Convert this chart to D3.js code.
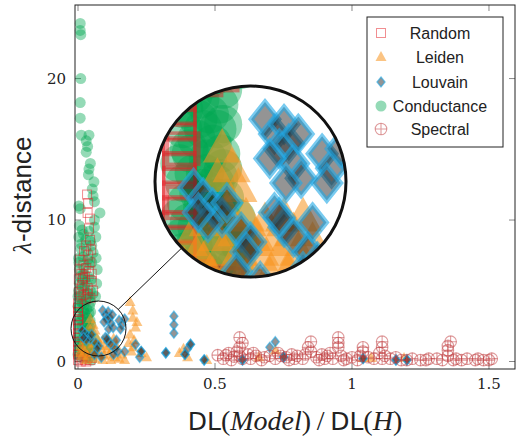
<!DOCTYPE html>
<html><head><meta charset="utf-8">
<script src="https://cdn.jsdelivr.net/npm/d3@7"></script>
<style>body{margin:0;background:#fff}</style>
</head><body>
<script>
// ---- data ----
const xTicks = [0, 0.5, 1, 1.5];
const xTickLabels = ["0", "0.5", "1", "1.5"];
const yTicks = [0, 10, 20];
const yTickLabels = ["0", "10", "20"];
const seriesNames = ["Random", "Leiden", "Louvain", "Conductance", "Spectral"];

const conductancePts = [
 [0.008,23.9],[0.008,23.4],[0.010,23.1],[0.010,20.0],[0.008,18.3],[0.008,17.2],[0.012,16.0],[0.040,16.0],
 [0.030,15.6],[0.035,15.2],[0.030,14.8],[0.045,14.0],[0.040,13.6],[0.038,13.2],[0.058,12.7],[0.052,12.2],
 [0.055,11.7],[0.060,11.3],[0.003,11.0],[0.008,10.8],[0.080,10.5],[0.005,9.6],[0.015,9.3],[0.060,9.5],
 [0.003,8.8],[0.045,8.5],[0.010,8.0],[0.030,7.8],[0.002,7.3],[0.050,7.0],
 [0.005,6.5],[0.020,6.2],[0.040,6.0],[0.005,5.5],[0.025,5.3],[0.045,5.0],[0.010,4.6],[0.030,4.4],
 [0.046,4.2],[0.005,3.8],[0.020,3.6],[0.040,3.4],[0.010,3.0],[0.030,2.8],[0.046,2.6],
 [0.005,2.3],[0.020,2.1],[0.040,2.0],[0.060,1.6],[0.010,1.5],[0.030,1.3],[0.050,1.2],[0.005,0.9],
 [0.020,0.7],[0.040,0.6],[0.010,0.3],[0.030,0.2],[0.050,0.1],[0.015,5.8],[0.035,4.8],[0.015,4.1],
 [0.035,3.1],[0.015,2.5],[0.035,1.7],[0.015,1.0],[0.045,0.9],[0.025,0.4],[0.065,1.0],
 [0.000,0.5],[0.012,0.8],[0.028,0.5],[0.042,0.3],[0.058,0.6],[0.003,1.2],[0.018,1.4],[0.033,1.0],
 [0.048,1.5],[0.062,1.1],[0.007,1.9],[0.024,1.8],[0.038,2.3],[0.048,2.0],[0.000,2.7],[0.012,2.9],
 [0.027,2.5],[0.044,2.9],[0.004,3.4],[0.018,3.2],[0.032,3.7],[0.046,3.5],[0.008,4.3],[0.022,4.0],
 [0.040,4.5],[0.055,4.8],[0.002,5.0],[0.017,5.2],[0.030,5.6],[0.048,5.8],[0.008,6.0],[0.024,6.6],
 [0.040,6.9],[0.003,7.0],[0.018,7.4],[0.035,7.2],[0.055,7.7],[0.012,8.3],[0.028,8.6],[0.050,8.2],
 [0.020,9.0],[0.040,9.2],[0.065,8.8],[0.070,6.5],[0.068,5.5],[0.064,4.6],[0.066,7.3],[0.060,10.0],
 [0.000,3.9],[0.025,3.4],[0.042,3.9],[0.000,1.6],[0.025,2.2],[0.042,2.4],[0.000,4.6],[0.028,1.9]
];
const randomPts = [
 [0.033,11.8],[0.037,11.2],[0.035,10.5],[0.044,10.1],[0.040,9.4],[0.044,8.6],[0.030,8.2],[0.037,7.5],
 [0.045,7.0],[0.020,6.8],[0.005,6.5],[0.040,6.4],[0.025,6.0],[0.003,5.8],[0.050,5.7],[0.015,5.4],
 [0.035,5.2],[0.003,4.9],[0.020,4.7],[0.045,4.5],[0.010,5.1],[0.028,4.4],[0.050,6.2],[0.055,5.0],
 [0.012,6.2],[0.030,6.6],[0.008,7.2],[0.022,7.8],[0.048,7.9],[0.010,4.6],[0.035,4.8],[0.018,5.9],
 [0.000,4.1],[0.000,3.8],[0.000,3.5],[0.000,3.2],[0.000,2.9],[0.000,2.6],[0.000,2.3],[0.000,2.0],
 [0.000,1.7],[0.000,1.4],[0.000,1.1],[0.000,0.8],[0.000,0.5],[0.004,3.0],[0.004,1.9],
 [0.005,0.3],[0.015,0.2],[0.025,0.1],[0.035,0.3],[0.045,0.1],[0.010,0.0],[0.030,0.0],[0.050,0.25],
 [0.020,0.4],[0.000,0.1]
];
const leidenPts = [
 [0.190,4.2],[0.200,3.6],[0.200,3.1],[0.210,2.4],[0.190,1.9],[0.205,1.5],[0.200,1.0],[0.195,0.7],
 [0.230,0.6],[0.160,0.5],[0.370,0.6],[0.400,0.3],[0.470,0.1],[0.385,0.9],[0.660,0.3],[0.720,0.8],
 [1.040,0.25],[1.070,0.25],[1.190,0.25],[0.250,0.3],[0.215,2.8],[0.185,1.3],
 [0.045,3.0],[0.055,2.6],[0.040,2.4],[0.062,2.2],
 [0.010,1.1],[0.030,1.5],[0.050,1.7],[0.070,1.6],[0.090,1.5],[0.110,1.6],[0.130,1.6],
 [0.020,0.9],[0.040,1.2],[0.060,1.3],[0.080,1.2],[0.100,1.1],[0.120,1.3],[0.140,1.1],
 [0.005,0.6],[0.025,0.7],[0.045,0.9],[0.065,0.8],[0.085,0.9],[0.105,0.8],[0.125,0.9],
 [0.015,0.4],[0.035,0.4],[0.055,0.6],[0.075,0.5],[0.095,0.4],[0.115,0.5],[0.135,0.3],
 [0.030,0.1],[0.060,0.2],[0.090,0.1],[0.120,0.1],[0.150,0.2],[0.170,0.1]
];
const louvainPts = [
 [0.090,3.6],[0.100,3.3],[0.110,3.5],[0.105,3.0],[0.115,3.1],[0.120,2.7],[0.095,2.8],[0.128,2.4],
 [0.112,2.3],[0.125,3.3],[0.150,2.9],[0.160,2.6],[0.155,2.3],[0.170,3.0],
 [0.015,2.2],[0.025,2.0],[0.035,1.8],[0.045,1.6],[0.030,1.5],[0.050,1.9],[0.020,1.7],
 [0.065,1.3],[0.075,1.1],[0.070,0.9],[0.100,1.7],[0.110,1.4],[0.120,1.2],[0.105,1.6],
 [0.135,0.9],[0.145,0.7],[0.130,0.5],[0.085,0.3],[0.060,0.5],
 [0.170,0.7],[0.210,1.2],[0.230,0.7],[0.225,0.3],[0.140,1.5],
 [0.350,3.2],[0.350,2.6],[0.350,2.0],[0.320,0.6],[0.390,0.5],[0.410,1.2],[0.400,0.9],[0.460,0.1],
 [0.600,0.1],[0.700,1.0],[0.720,1.4],[0.750,0.3],[1.040,0.2],[1.160,0.1],[1.200,0.1],
 [0.321,0.62],[0.461,0.12],[0.601,0.12],[1.161,0.12],[1.201,0.12],[0.751,0.32],[0.231,0.72],
 [0.411,1.22],[1.041,0.22],[0.391,0.52]
];
const spectralPts = [
 [0.51,0.45],[0.54,0.45],[0.57,0.35],[0.59,1.0],[0.59,1.7],[0.59,0.4],[0.62,0.5],[0.65,0.4],
 [0.68,0.3],[0.74,0.4],[0.76,0.3],[0.80,0.4],[0.82,0.2],[0.85,0.7],[0.85,1.4],[0.87,0.3],
 [0.91,0.4],[0.95,1.0],[0.95,1.7],[0.98,0.2],[1.04,0.7],[1.04,1.0],[1.11,1.0],[1.11,0.2],
 [1.14,0.2],[1.20,0.1],[1.25,0.1],[1.28,0.2],[1.35,0.8],[1.35,0.4],[1.37,0.1],[1.40,0.1],
 [1.45,0.1],[1.48,0.1],[1.50,0.1],[1.51,0.2],[0.70,0.4],[0.78,0.5],[0.89,0.5],[0.93,0.2],
 [1.00,0.3],[1.08,0.2],[1.16,0.3],[1.31,0.2],[1.42,0.2],[0.55,0.6],[0.63,0.2],[1.35,1.1],
 [0.95,1.3],[1.11,1.4],
 [0.53,0.2],[0.56,0.1],[0.60,0.2],[0.64,0.6],[0.67,0.1],[0.72,0.2],[0.73,0.6],[0.77,0.1],
 [0.79,0.2],[0.83,0.5],[0.84,1.0],[0.88,0.1],[0.90,0.2],[0.92,0.6],[0.96,0.4],[0.97,0.1],
 [1.02,0.1],[1.06,0.3],[1.10,0.6],[1.12,0.4],[1.18,0.1],[1.22,0.2],[1.27,0.1],[1.33,0.1],
 [1.36,1.4],[1.38,0.2],[1.46,0.2],[1.03,0.4],[0.58,0.7],[0.60,1.3]
];

// ---- layout ----
const W = 519, H = 437;
const x = d3.scaleLinear().domain([-0.011, 1.595]).range([75, 515]);
const y = d3.scaleLinear().domain([-0.53, 25.2]).range([369, 5]);

const svg = d3.select("body").append("svg").attr("width", W).attr("height", H)
  .style("font-family", "'Liberation Sans', Arial, sans-serif");

const C = {
  green: "#00a651", red: "#e31e24", orange: "#f7941d", grey: "#2a2a2a", cyan: "#1fa9e6", spec: "#c0393b"
};

function drawSquare(g, pts) {
  g.selectAll(null).data(pts).join("rect")
    .attr("x", d => x(d[0]) - 4.5).attr("y", d => y(d[1]) - 4.5)
    .attr("width", 9).attr("height", 9)
    .attr("fill", "none").attr("stroke", C.red).attr("stroke-opacity", 0.5).attr("stroke-width", 1);
}
function drawCircle(g, pts) {
  g.selectAll(null).data(pts).join("circle")
    .attr("cx", d => x(d[0])).attr("cy", d => y(d[1])).attr("r", 5.5)
    .attr("fill", C.green).attr("fill-opacity", 0.42);
}
function drawTri(g, pts) {
  g.selectAll(null).data(pts).join("path")
    .attr("d", d => { const cx = x(d[0]), cy = y(d[1]); return `M${cx},${cy-6}L${cx+5.5},${cy+4}L${cx-5.5},${cy+4}Z`; })
    .attr("fill", C.orange).attr("fill-opacity", 0.55);
}
function drawDiamond(g, pts) {
  g.selectAll(null).data(pts).join("path")
    .attr("d", d => { const cx = x(d[0]), cy = y(d[1]); return `M${cx},${cy-5}L${cx+4},${cy}L${cx},${cy+5}L${cx-4},${cy}Z`; })
    .attr("fill", C.grey).attr("fill-opacity", 0.5)
    .attr("stroke", C.cyan).attr("stroke-opacity", 0.6).attr("stroke-width", 1.4);
}
function drawSpectral(g, pts) {
  const s = g.selectAll(null).data(pts).join("g")
    .attr("transform", d => `translate(${x(d[0])},${y(d[1])})`)
    .attr("stroke", C.spec).attr("stroke-opacity", 0.5).attr("fill", "none").attr("stroke-width", 1.1);
  s.append("circle").attr("r", 5.8);
  s.append("path").attr("d", "M-5.8,0H5.8M0,-5.8V5.8");
}
function drawAll(g) {
  drawCircle(g.append("g"), conductancePts);
  drawSquare(g.append("g"), randomPts);
  drawTri(g.append("g"), leidenPts);
  drawDiamond(g.append("g"), louvainPts);
  drawSpectral(g.append("g"), spectralPts);
}

// frame & ticks
const frame = svg.append("g");
const tickCol = "#888";
xTicks.forEach(t => {
  frame.append("line").attr("x1", x(t)).attr("x2", x(t)).attr("y1", 369).attr("y2", 363).attr("stroke", tickCol);
  frame.append("line").attr("x1", x(t)).attr("x2", x(t)).attr("y1", 5).attr("y2", 11).attr("stroke", tickCol);
});
yTicks.forEach(t => {
  frame.append("line").attr("x1", 75).attr("x2", 81).attr("y1", y(t)).attr("y2", y(t)).attr("stroke", tickCol);
  frame.append("line").attr("x1", 515).attr("x2", 509).attr("y1", y(t)).attr("y2", y(t)).attr("stroke", tickCol);
});

// marks
drawAll(svg.append("g"));

svg.append("rect").attr("x", 75).attr("y", 5).attr("width", 440).attr("height", 364)
  .attr("fill", "none").attr("stroke", "#222").attr("stroke-width", 1);

// tick labels
svg.append("g").selectAll("text").data(xTicks).join("text")
  .attr("x", d => x(d)).attr("y", 389).attr("text-anchor", "middle")
  .style("font-family", "'DejaVu Serif', serif").style("font-size", "15px").attr("fill", "#222")
  .text((d, i) => xTickLabels[i]);
svg.append("g").selectAll("text").data(yTicks).join("text")
  .attr("x", 66).attr("y", d => y(d) + 5).attr("text-anchor", "end")
  .style("font-family", "'DejaVu Serif', serif").style("font-size", "15px").attr("fill", "#222")
  .text((d, i) => yTickLabels[i]);

// spy
const smallC = { cx: 98.5, cy: 328.5, r: 27.5 };
const bigC = { cx: 250.5, cy: 181.5, r: 95.5 };
const k = bigC.r / smallC.r;
const defs = svg.append("defs");
defs.append("clipPath").attr("id", "spyclip").append("circle")
  .attr("cx", bigC.cx).attr("cy", bigC.cy).attr("r", bigC.r);
const dx = bigC.cx - smallC.cx, dy = bigC.cy - smallC.cy, L = Math.hypot(dx, dy);
svg.append("line")
  .attr("x1", smallC.cx + dx / L * smallC.r).attr("y1", smallC.cy + dy / L * smallC.r)
  .attr("x2", bigC.cx - dx / L * bigC.r).attr("y2", bigC.cy - dy / L * bigC.r)
  .attr("stroke", "#111").attr("stroke-width", 1);
svg.append("circle").attr("cx", smallC.cx).attr("cy", smallC.cy).attr("r", smallC.r)
  .attr("fill", "none").attr("stroke", "#111").attr("stroke-width", 1);
const spy = svg.append("g").attr("clip-path", "url(#spyclip)");
spy.append("circle").attr("cx", bigC.cx).attr("cy", bigC.cy).attr("r", bigC.r).attr("fill", "#fff");
drawAll(spy.append("g").attr("transform",
  `translate(${bigC.cx},${bigC.cy}) scale(${k}) translate(${-smallC.cx},${-smallC.cy})`));
svg.append("circle").attr("cx", bigC.cx).attr("cy", bigC.cy).attr("r", bigC.r)
  .attr("fill", "none").attr("stroke", "#111").attr("stroke-width", 3);

// legend
const lg = svg.append("g");
lg.append("rect").attr("x", 367).attr("y", 17).attr("width", 136).attr("height", 130)
  .attr("fill", "#fff").attr("stroke", "#222").attr("stroke-width", 1);
const ly = [33, 57, 82, 106, 129];
const lmx = 381;
const legendPt = i => [[x.invert(lmx), y.invert(ly[i])]];
drawSquare(lg.append("g"), legendPt(0));
drawTri(lg.append("g"), legendPt(1));
drawDiamond(lg.append("g"), legendPt(2));
drawCircle(lg.append("g"), legendPt(3));
drawSpectral(lg.append("g"), legendPt(4));
lg.selectAll("text.l").data(seriesNames).join("text")
  .attr("x", 440).attr("y", (d, i) => ly[i] + 6).attr("text-anchor", "middle")
  .style("font-size", "16px").attr("fill", "#222").text(d => d);

// axis labels
const yl = svg.append("text").attr("transform", "translate(31,195) rotate(-90)")
  .attr("text-anchor", "middle").style("font-size", "26px").attr("fill", "#222");
yl.append("tspan").style("font-family", "'Liberation Serif', serif").style("font-style", "italic").text("λ");
yl.append("tspan").text("-distance");

const xl = svg.append("text").attr("x", 295).attr("y", 430).attr("text-anchor", "middle")
  .style("font-size", "28px").attr("fill", "#222");
const serifI = t => xl.append("tspan").style("font-family", "'Liberation Serif', serif").style("font-style", "italic").text(t);
const serifN = t => xl.append("tspan").style("font-family", "'Liberation Serif', serif").text(t);
const sans = t => xl.append("tspan").style("font-family", "'DejaVu Sans', sans-serif").style("font-size", "25px").text(t);
sans("DL"); serifN("("); serifI("Model"); serifN(")\u2009/\u2009"); sans("DL"); serifN("("); serifI("H"); serifN(")");
</script>
</body></html>
